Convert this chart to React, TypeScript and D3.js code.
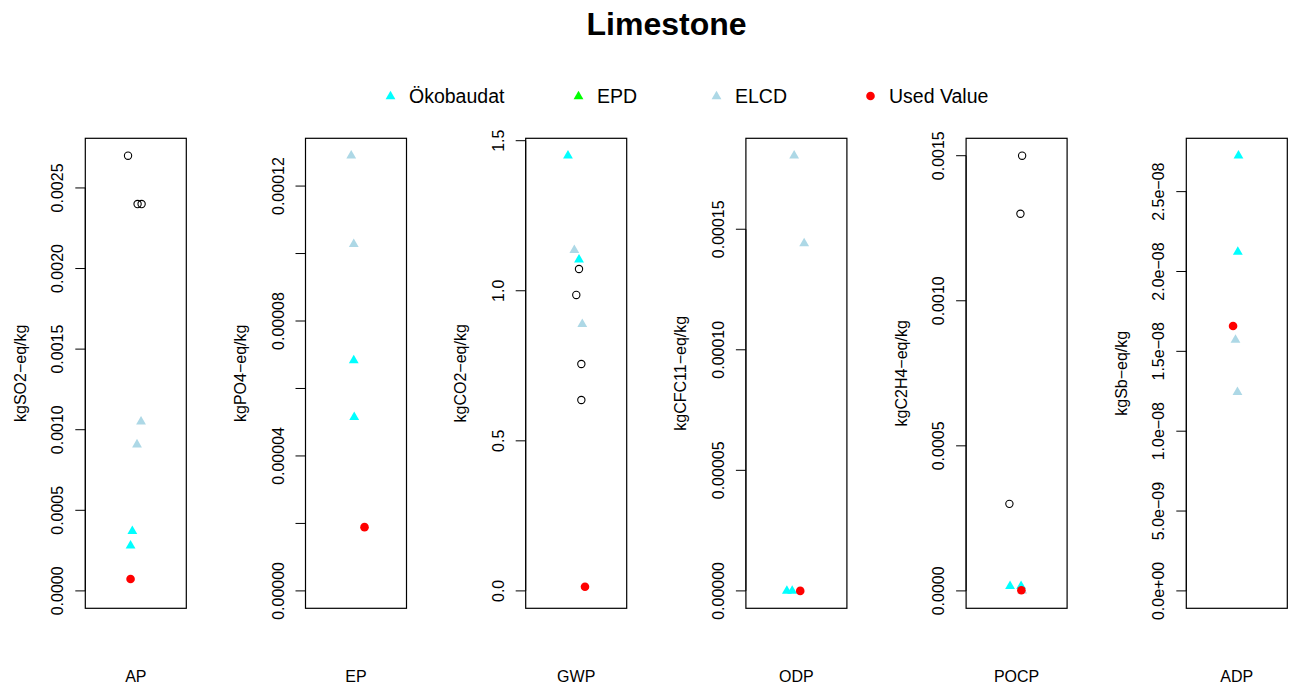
import React from "react";
import * as d3 from "d3";

// Impact categories and their units
const categories = ["AP", "EP", "GWP", "ODP", "POCP", "ADP"];
const units = [
  "kgSO2\u2212eq/kg",
  "kgPO4\u2212eq/kg",
  "kgCO2\u2212eq/kg",
  "kgCFC11\u2212eq/kg",
  "kgC2H4\u2212eq/kg",
  "kgSb\u2212eq/kg",
];

// Ökobaudat datasets (value, jittered x)
const okobaudatValues = [
  [0.00037, 0.000281],
  [0.0000683, 0.0000515],
  [1.45, 1.104],
  [0, 0],
  [0.000016, 0.000016],
  [2.725e-8, 2.122e-8],
];
const okobaudatJitter = [
  [0.963, 0.944],
  [0.976, 0.981],
  [0.912, 1.03],
  [0.898, 0.955],
  [0.93, 1.048],
  [1.018, 1.011],
];

// EPD datasets (none available for limestone)
const epdValues: number[][] = [[], [], [], [], [], []];
const epdJitter: number[][] = [[], [], [], [], [], []];

// ELCD datasets
const elcdValues = [
  [0.00105, 0.000908],
  [0.000129, 0.0001028],
  [1.135, 0.889],
  [0.0001805, 0.0001441],
  [0.0000005],
  [1.571e-8, 1.244e-8],
];
const elcdJitter = [
  [1.056, 1.013],
  [0.949, 0.976],
  [0.98, 1.065],
  [0.976, 1.083],
  [1.059],
  [0.986, 1.007],
];

// Other literature values (open circles)
const otherValues = [
  [0.0027, 0.0024, 0.0024],
  [],
  [1.0725, 0.986, 0.756, 0.636],
  [],
  [0.0015, 0.0013, 0.0003],
  [],
];
const otherJitter = [
  [0.917, 1.019, 1.062],
  [],
  [1.03, 1.001, 1.055, 1.055],
  [],
  [1.059, 1.041, 0.923],
  [],
];

// Value used in the model
const usedValues = [0.0000738, 0.0000189, 0.014, 0, 0.000002, 1.659e-8];
const usedJitter = [0.944, 1.091, 1.094, 1.041, 1.051, 0.96];

// Axis ticks per panel (empty label = unlabeled tick)
const tickValues = [
  [0, 0.0005, 0.001, 0.0015, 0.002, 0.0025],
  [0, 0.00002, 0.00004, 0.00006, 0.00008, 0.0001, 0.00012],
  [0, 0.5, 1.0, 1.5],
  [0, 0.00005, 0.0001, 0.00015],
  [0, 0.0005, 0.001, 0.0015],
  [0, 5e-9, 1e-8, 1.5e-8, 2e-8, 2.5e-8],
];
const tickLabels = [
  ["0.0000", "0.0005", "0.0010", "0.0015", "0.0020", "0.0025"],
  ["0.00000", "", "0.00004", "", "0.00008", "", "0.00012"],
  ["0.0", "0.5", "1.0", "1.5"],
  ["0.00000", "0.00005", "0.00010", "0.00015"],
  ["0.0000", "0.0005", "0.0010", "0.0015"],
  ["0.0e+00", "5.0e\u221209", "1.0e\u221208", "1.5e\u221208", "2.0e\u221208", "2.5e\u221208"],
];

const legendLabels = ["Ökobaudat", "EPD", "ELCD", "Used Value"];
const legendColors = ["#00FFFF", "#00FF00", "#ADD8E6", "#FF0000"];
const legendShapes = ["triangle", "triangle", "triangle", "circle"];

const W = 1294;
const H = 684;
const FONT = "'Liberation Sans', Arial, Helvetica, sans-serif";
const panelLeft0 = 85.3;
const panelStep = 220.2;
const panelWidth = 101;
const panelTop = 138.3;
const panelBottom = 608.3;
const PT = 3.65; // symbol radius

function trianglePath(cx: number, cy: number, r = PT) {
  const top = 1.555 * r;
  const xc = 1.347 * r;
  const yc = 0.7776 * r;
  return `M${cx},${cy - top}L${cx + xc},${cy + yc}L${cx - xc},${cy + yc}Z`;
}

function Panel({ i }: { i: number }) {
  const left = panelLeft0 + panelStep * i;
  const right = left + panelWidth;
  const all = [
    ...okobaudatValues[i],
    ...epdValues[i],
    ...elcdValues[i],
    ...otherValues[i],
    usedValues[i],
  ];
  const yMax = d3.max(all) as number;
  const yMin = 0;
  const pad = (yMax - yMin) * 0.04;
  const y = d3.scaleLinear().domain([yMin - pad, yMax + pad]).range([panelBottom, panelTop]);
  const x = d3.scaleLinear().domain([0.46, 1.54]).range([left, right]);
  const ticks = tickValues[i];
  const labelX = left - 22;
  const ylabX = left - 59.5;
  const midY = (panelTop + panelBottom) / 2;

  return (
    <g>
      {/* y axis */}
      <line
        x1={left}
        x2={left}
        y1={y(ticks[0])}
        y2={y(ticks[ticks.length - 1])}
        stroke="#000"
        strokeWidth={1}
      />
      {ticks.map((t, k) => (
        <g key={k}>
          <line x1={left - 10} x2={left} y1={y(t)} y2={y(t)} stroke="#000" strokeWidth={1} />
          {tickLabels[i][k] !== "" && (
            <text
              transform={`translate(${labelX},${y(t)}) rotate(-90)`}
              textAnchor="middle"
              fontSize={16}
              fontFamily={FONT}
              fill="#000"
            >
              {tickLabels[i][k]}
            </text>
          )}
        </g>
      ))}
      <text
        transform={`translate(${ylabX},${midY}) rotate(-90)`}
        textAnchor="middle"
        fontSize={16}
        fontFamily={FONT}
        fill="#000"
      >
        {units[i]}
      </text>
      <text x={x(1)} y={682} textAnchor="middle" fontSize={16} fontFamily={FONT} fill="#000">
        {categories[i]}
      </text>

      {/* points */}
      {otherValues[i].map((v, k) => (
        <circle
          key={`o${k}`}
          cx={x(otherJitter[i][k])}
          cy={y(v)}
          r={PT}
          fill="none"
          stroke="#000"
          strokeWidth={1.1}
        />
      ))}
      {elcdValues[i].map((v, k) => (
        <path key={`e${k}`} d={trianglePath(x(elcdJitter[i][k]), y(v))} fill="#ADD8E6" />
      ))}
      {okobaudatValues[i].map((v, k) => (
        <path key={`k${k}`} d={trianglePath(x(okobaudatJitter[i][k]), y(v))} fill="#00FFFF" />
      ))}
      {epdValues[i].map((v, k) => (
        <path key={`p${k}`} d={trianglePath(x(epdJitter[i][k]), y(v))} fill="#00FF00" />
      ))}
      <circle cx={x(usedJitter[i])} cy={y(usedValues[i])} r={4.3} fill="#FF0000" />

      {/* frame */}
      <rect
        x={left}
        y={panelTop}
        width={panelWidth}
        height={panelBottom - panelTop}
        fill="none"
        stroke="#000"
        strokeWidth={1.2}
      />
    </g>
  );
}

export default function App() {
  const legendSymbolX = [390.5, 578.5, 716.5, 870.5];
  const legendY = 96;
  return (
    <svg
      width={W}
      height={H}
      viewBox={`0 0 ${W} ${H}`}
      style={{ position: "absolute", left: 0, top: 0, display: "block", background: "#fff" }}
    >
      <rect x={0} y={0} width={W} height={H} fill="#fff" />
      <text
        x={666.5}
        y={35}
        textAnchor="middle"
        fontSize={32}
        fontWeight="bold"
        fontFamily={FONT}
        fill="#000"
      >
        Limestone
      </text>
      {legendLabels.map((lab, k) => (
        <g key={lab}>
          {legendShapes[k] === "triangle" ? (
            <path d={trianglePath(legendSymbolX[k], legendY + 0.5)} fill={legendColors[k]} />
          ) : (
            <circle cx={legendSymbolX[k]} cy={legendY} r={4.3} fill={legendColors[k]} />
          )}
          <text
            x={legendSymbolX[k] + 18.5}
            y={legendY + 7}
            fontSize={19.5}
            fontFamily={FONT}
            fill="#000"
          >
            {lab}
          </text>
        </g>
      ))}
      {categories.map((_, i) => (
        <Panel key={i} i={i} />
      ))}
    </svg>
  );
}
